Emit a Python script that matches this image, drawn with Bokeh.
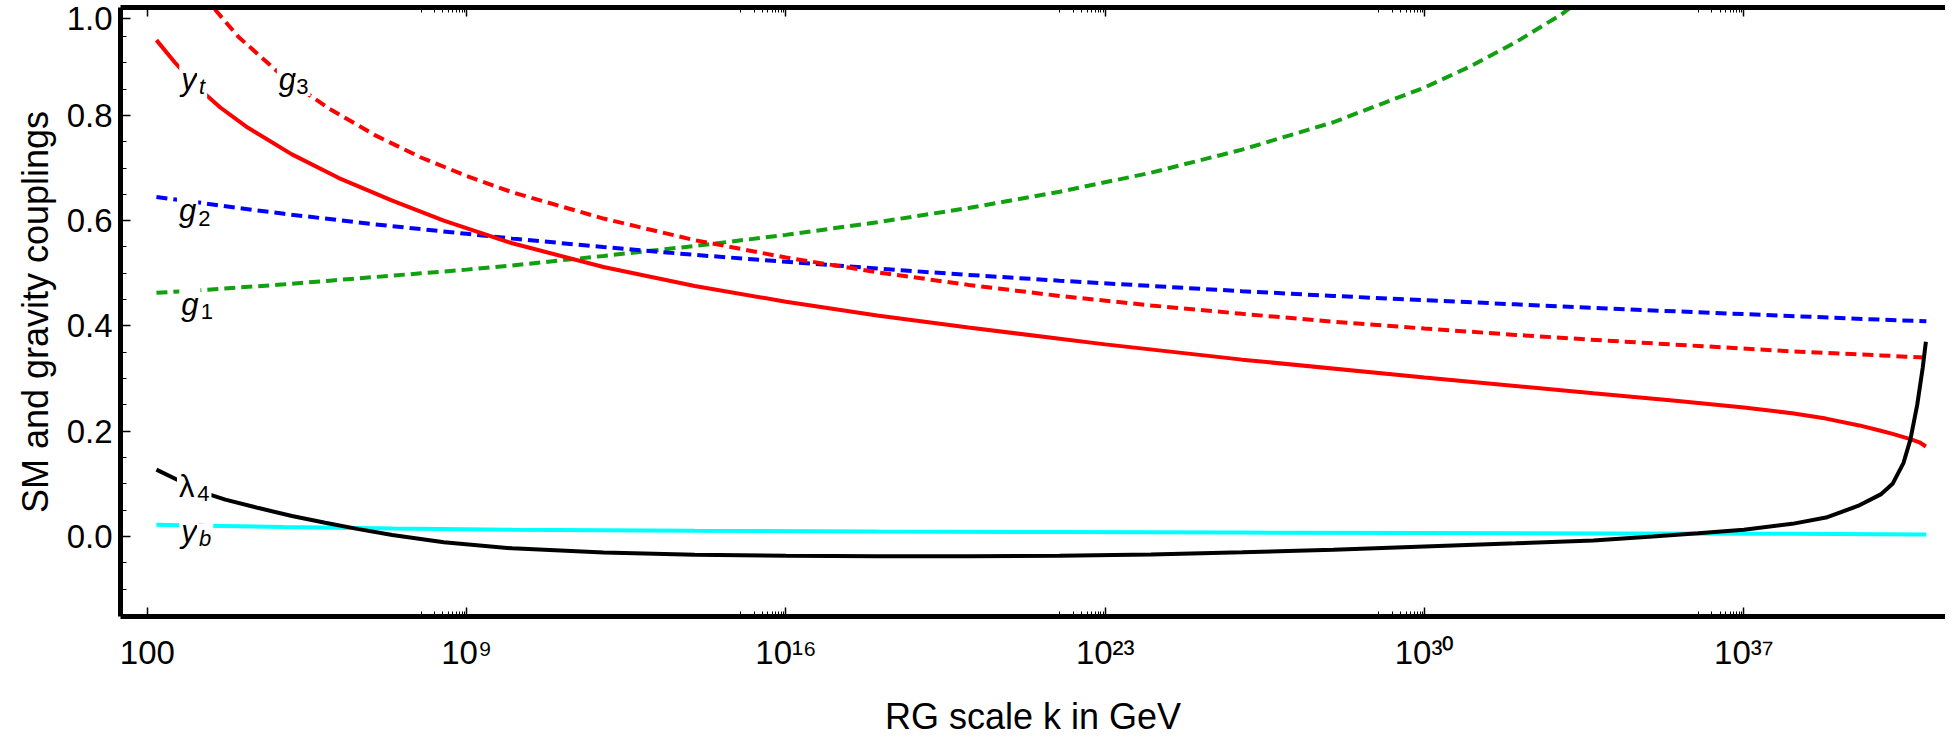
import numpy as np
from bokeh.plotting import figure
from bokeh.models import FixedTicker, LogAxis, Range1d, Label, NumeralTickFormatter
from bokeh.embed import file_html
from bokeh.resources import INLINE

# ---- data: x = log10(k / GeV) ----
logk_gauge = [2.2, 3, 4, 5, 6, 7, 8, 9, 10, 12, 14, 16, 18, 20, 22, 24, 26, 28, 30, 32, 34, 36, 38, 40, 41]
g2_vals = [0.645, 0.636, 0.624, 0.613, 0.603, 0.593, 0.584, 0.575, 0.566, 0.550, 0.535, 0.522, 0.509,
           0.497, 0.486, 0.476, 0.466, 0.457, 0.449, 0.441, 0.433, 0.426, 0.419, 0.412, 0.409]
g3_vals = [1.160, 1.050, 0.949, 0.872, 0.812, 0.762, 0.720, 0.685, 0.654, 0.604, 0.563, 0.530, 0.502,
           0.478, 0.457, 0.439, 0.423, 0.408, 0.395, 0.383, 0.372, 0.362, 0.352, 0.344, 0.340]

logk_g1 = [2.2, 3, 4, 5, 6, 7, 8, 9, 10, 12, 14, 16, 18, 20, 22, 24, 26, 28, 30, 31, 32, 33, 34]
g1_vals = [0.463, 0.467, 0.473, 0.479, 0.486, 0.493, 0.500, 0.507, 0.515, 0.533, 0.552, 0.573, 0.597,
           0.624, 0.655, 0.691, 0.735, 0.787, 0.853, 0.893, 0.939, 0.992, 1.056]

logk_yt = [2.2, 2.6, 3.13, 3.6, 4.2, 5.17, 6.2, 7.37, 8.5, 10, 12, 14, 16, 18, 20, 23, 26, 30, 33.7,
           35.5, 37, 38.06, 38.8, 39.53, 40.0, 40.26, 40.65, 40.85, 40.99]
yt_vals = [0.943, 0.901, 0.851, 0.815, 0.777, 0.726, 0.681, 0.638, 0.600, 0.557, 0.512, 0.476, 0.446,
           0.420, 0.397, 0.365, 0.336, 0.302, 0.272, 0.258, 0.245, 0.234, 0.224, 0.211, 0.201, 0.195,
           0.185, 0.179, 0.171]

logk_lam = [2.2, 2.7, 3.25, 3.71, 4.44, 5.17, 5.9, 6.63, 7.37, 8.5, 10, 12, 14, 16, 18, 20, 22, 24, 26,
            28, 30, 32, 33.7, 35, 36, 37, 38.06, 38.8, 39.5, 40.0, 40.26, 40.5, 40.65, 40.8, 40.92, 40.99]
lam4_vals = [0.127, 0.106, 0.083, 0.070, 0.054, 0.039, 0.026, 0.014, 0.003, -0.011, -0.0225, -0.0305,
             -0.0345, -0.0365, -0.0375, -0.0375, -0.0365, -0.034, -0.030, -0.025, -0.019, -0.013,
             -0.0075, 0.0, 0.006, 0.013, 0.024, 0.036, 0.058, 0.080, 0.100, 0.140, 0.184, 0.250,
             0.320, 0.370]

logk_yb = [2.2, 3.25, 5, 7.4, 10, 14, 18, 22, 26, 30, 34, 38, 41]
yb_vals = [0.0225, 0.0206, 0.018, 0.015, 0.013, 0.011, 0.0095, 0.0085, 0.0075, 0.0065, 0.0057, 0.005, 0.004]

x_major = [1e2, 1e9, 1e16, 1e23, 1e30, 1e37]
x_major_labels = ["100", "10\u2079", "10\u00b9\u2076", "10\u00b2\u00b3", "10\u00b3\u2070", "10\u00b3\u2077"]
x_minor_decades = [8, 15, 22, 29, 36]
# the top label "1.0" is drawn just below the frame edge (as in the original), hence 0.984
y_major = [0.0, 0.2, 0.4, 0.6, 0.8, 0.984]
y_minor = [-0.15, -0.1, -0.05, 0.05, 0.1, 0.15, 0.25, 0.3, 0.35, 0.45, 0.5, 0.55, 0.65, 0.7, 0.75,
           0.85, 0.9, 0.95]

def K(arr):
    return 10 ** np.array(arr, dtype=float)

FONT = "Liberation Sans"
X_LO, X_HI = 10 ** 1.412, 10 ** 41.42

p = figure(width=1945, height=739, x_axis_type="log",
           x_range=Range1d(X_LO, X_HI), y_range=Range1d(-0.152, 1.005),
           output_backend="svg", toolbar_location=None,
           min_border_left=120, min_border_right=0, min_border_top=7, min_border_bottom=115)
p.outline_line_color = None
p.xgrid.visible = False
p.ygrid.visible = False
p.background_fill_color = "white"

x_minor = [m * 10 ** d for d in x_minor_decades for m in range(1, 10)]
xt = FixedTicker(ticks=x_major, minor_ticks=x_minor)
overrides = {t: l for t, l in zip(x_major, x_major_labels)}

xa = p.xaxis[0]
xa.ticker = xt
xa.major_label_overrides = overrides
xa.axis_label = "RG scale k in GeV"
ya = p.yaxis[0]
ya.ticker = FixedTicker(ticks=y_major, minor_ticks=y_minor)
ya.formatter = NumeralTickFormatter(format="0.0")
ya.axis_label = "SM and gravity couplings"

for ax in (xa, ya):
    ax.axis_line_width = 5
    ax.axis_line_color = "black"
    ax.major_tick_out = 0
    ax.minor_tick_out = 0
    ax.major_tick_line_width = 1.5
    ax.minor_tick_line_width = 1
    ax.major_label_text_font = FONT
    ax.major_label_text_font_size = "33px"
    ax.major_label_text_color = "black"
    ax.axis_label_text_font = FONT
    ax.axis_label_text_font_size = "36px"
    ax.axis_label_text_font_style = "normal"
    ax.axis_label_text_color = "black"

xa.major_tick_in = 9
xa.minor_tick_in = 5
xa.major_label_standoff = 17
xa.axis_label_standoff = 22
ya.major_tick_in = 10
ya.minor_tick_in = 6
ya.major_label_standoff = 8
ya.axis_label_standoff = 8

top = LogAxis(ticker=FixedTicker(ticks=x_major, minor_ticks=x_minor),
              axis_line_width=5, axis_line_color="black",
              major_tick_in=9, major_tick_out=0, minor_tick_in=5, minor_tick_out=0,
              major_tick_line_width=1.5, minor_tick_line_width=1,
              major_label_text_font_size="0px", major_label_standoff=0,
              major_label_overrides={t: "" for t in x_major})
p.add_layout(top, "above")

LW = 4
p.line(K(logk_g1), g1_vals, line_color="#10a010", line_width=LW, line_dash="11 6")
p.line(K(logk_gauge), g2_vals, line_color="#0000ff", line_width=LW, line_dash="11 6")
p.line(K(logk_gauge), g3_vals, line_color="#ff0000", line_width=LW, line_dash="11 6")
p.line(K(logk_yt), yt_vals, line_color="#ff0000", line_width=LW)
p.line(K(logk_yb), yb_vals, line_color="#00ffff", line_width=LW)
p.line(K(logk_lam), lam4_vals, line_color="black", line_width=LW)

# curve labels (letter, subscript): (log10 k, baseline value)
labels = [
    ("y", "italic", 2.70, 0.868, "t", "italic", 3.09, 0.855),
    ("g", "italic", 4.84, 0.868, "3", "normal", 5.22, 0.855),
    ("g", "italic", 2.65, 0.619, "2", "normal", 3.07, 0.605),
    ("g", "italic", 2.70, 0.440, "1", "normal", 3.13, 0.427),
    ("\u03bb", "normal", 2.65, 0.0956, "4", "normal", 3.05, 0.0825),
    ("y", "italic", 2.70, 0.0094, "b", "italic", 3.09, -0.004),
]
for m, ms, mx, my, s, ss, sx, sy in labels:
    p.add_layout(Label(x=10 ** mx, y=my, text=m, text_font=FONT, text_font_style=ms,
                       text_font_size="31px", text_color="black", text_baseline="alphabetic",
                       background_fill_color="white", padding=2))
    p.add_layout(Label(x=10 ** sx, y=sy, text=s, text_font=FONT, text_font_style=ss,
                       text_font_size="22px", text_color="black", text_baseline="alphabetic",
                       background_fill_color="white", padding=2))

open("out.html", "w").write(file_html(p, INLINE))
